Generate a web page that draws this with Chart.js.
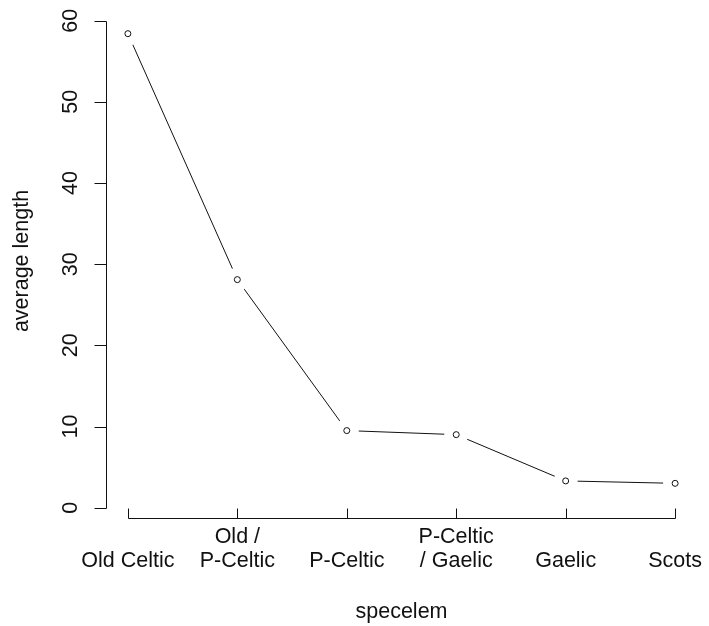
<!DOCTYPE html>
<html>
<head>
<meta charset="utf-8">
<script src="https://cdn.jsdelivr.net/npm/chart.js@4/dist/chart.umd.min.js"></script>
<style>
  html, body { margin: 0; padding: 0; background: #fff; }
  #wrap { width: 709px; height: 626px; }
</style>
</head>
<body>
<div id="wrap"><canvas id="c" width="709" height="626"></canvas></div>
<script>
// ---- data ----
const categories = [["Old Celtic"], ["Old /", "P-Celtic"], ["P-Celtic"], ["P-Celtic", "/ Gaelic"], ["Gaelic"], ["Scots"]];
const averageLength = [58.4, 28.1, 9.5, 9.0, 3.3, 3.0];
const yTicks = [0, 10, 20, 30, 40, 50, 60];
const xTitle = "specelem";
const yTitle = "average length";

const FONT = '21.5px "Liberation Sans", Arial, sans-serif';
const INK = '#111';

const pts = averageLength.map((v, i) => ({ x: i, y: v }));

const rAxes = {
  id: 'rAxes',
  afterDraw(chart) {
    const ctx = chart.ctx;
    const xs = chart.scales.x, ys = chart.scales.y;
    const left = Math.round(xs.getPixelForValue(-0.2)) + 0.5;
    const axisY = Math.round(chart.chartArea.bottom) + 0.5;
    ctx.save();
    ctx.strokeStyle = INK;
    ctx.fillStyle = INK;
    ctx.lineWidth = 1;
    ctx.font = FONT;
    // y axis
    const y0 = Math.round(ys.getPixelForValue(yTicks[0])) + 0.5;
    const y1 = Math.round(ys.getPixelForValue(yTicks[yTicks.length - 1])) + 0.5;
    ctx.beginPath();
    ctx.moveTo(left, y0); ctx.lineTo(left, y1);
    yTicks.forEach(t => {
      const py = Math.round(ys.getPixelForValue(t)) + 0.5;
      ctx.moveTo(left, py); ctx.lineTo(left - 12, py);
    });
    ctx.stroke();
    ctx.textAlign = 'center';
    ctx.textBaseline = 'alphabetic';
    yTicks.forEach(t => {
      const py = ys.getPixelForValue(t);
      ctx.save();
      ctx.translate(77, py);
      ctx.rotate(-Math.PI / 2);
      ctx.fillText(String(t), 0, 0);
      ctx.restore();
    });
    // y title
    ctx.save();
    ctx.translate(28, 261);
    ctx.rotate(-Math.PI / 2);
    ctx.fillText(yTitle, 0, 0);
    ctx.restore();
    // x axis
    const xa = Math.round(xs.getPixelForValue(0)) + 0.5;
    const xb = Math.round(xs.getPixelForValue(categories.length - 1)) + 0.5;
    ctx.beginPath();
    ctx.moveTo(xa, axisY); ctx.lineTo(xb, axisY);
    categories.forEach((c, i) => {
      const px = Math.round(xs.getPixelForValue(i)) + 0.5;
      ctx.moveTo(px, axisY); ctx.lineTo(px, axisY - 10);
    });
    ctx.stroke();
    categories.forEach((lines, i) => {
      const px = xs.getPixelForValue(i);
      const n = lines.length;
      lines.forEach((s, k) => {
        ctx.fillText(s, px, 567 - (n - 1 - k) * 24.5);
      });
    });
    // x title
    ctx.fillText(xTitle, (xs.getPixelForValue(-0.2) + xs.getPixelForValue(5.2)) / 2, 618);
    ctx.restore();
  }
};

new Chart(document.getElementById('c'), {
  type: 'line',
  data: {
    datasets: [
      {
        data: pts,
        showLine: false,
        pointStyle: 'circle',
        pointRadius: 3,
        pointBorderWidth: 1,
        pointBorderColor: INK,
        pointBackgroundColor: '#fff',
        order: 0
      },
      {
        data: pts,
        borderColor: INK,
        borderWidth: 1,
        tension: 0,
        pointRadius: 12,
        pointBorderWidth: 0,
        pointBorderColor: '#fff',
        pointBackgroundColor: '#fff',
        order: 1
      }
    ]
  },
  options: {
    responsive: false,
    animation: false,
    events: [],
    layout: { padding: { left: 106, right: 8, top: 12, bottom: 108 } },
    plugins: { legend: { display: false }, tooltip: { enabled: false } },
    scales: {
      x: { type: 'linear', min: -0.2, max: 5.2, display: false },
      y: { type: 'linear', min: -1.27, max: 61.07, display: false }
    }
  },
  plugins: [rAxes]
});
</script>
</body>
</html>
